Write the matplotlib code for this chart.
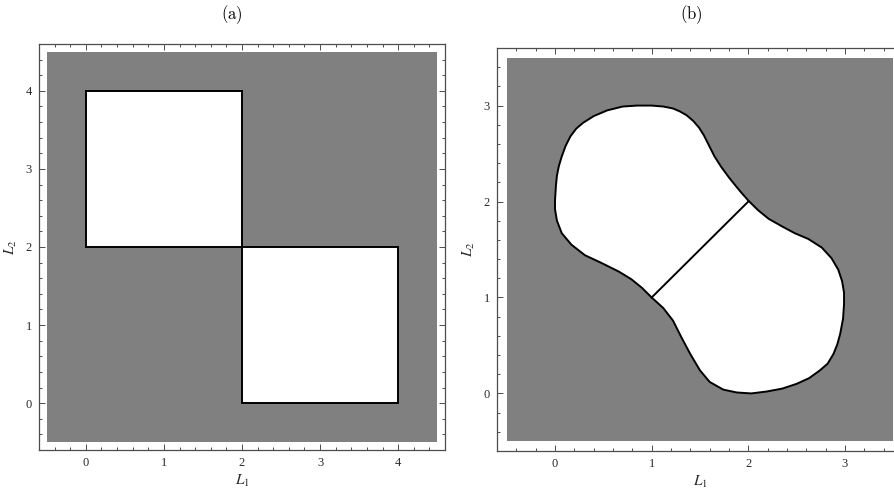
import matplotlib
matplotlib.use("Agg")
import matplotlib.pyplot as plt
from matplotlib.patches import Rectangle, Polygon
from matplotlib.ticker import MultipleLocator

gray = "#808080"
frame_color = "#4d4d4d"

# panel (a): shaded region and the two white squares
a_region = [-0.5, 4.5]
a_square_x = [0, 2]
a_square_y = [2, 0]
a_square_side = 2
a_ticks = [0, 1, 2, 3, 4]

# panel (b): shaded region, outline of the two lobes and the cut between them
b_region = [-0.5, 3.5]
b_ticks = [0, 1, 2, 3]
b_upper_x = [1.00, 0.90, 0.79, 0.66, 0.48, 0.31, 0.17, 0.07, 0.02, 0.0, 0.0, 0.01,
             0.02, 0.04, 0.07, 0.11, 0.16, 0.22, 0.29, 0.40, 0.54, 0.70, 0.85, 1.00,
             1.12, 1.22, 1.29, 1.36, 1.43, 1.49, 1.54, 1.59, 1.65, 1.72, 1.80, 1.88,
             1.93, 2.00]
b_upper_y = [1.00, 1.10, 1.19, 1.27, 1.36, 1.44, 1.55, 1.67, 1.80, 1.92, 2.01, 2.17,
             2.27, 2.37, 2.47, 2.58, 2.68, 2.76, 2.82, 2.89, 2.95, 2.99, 3.00, 3.00,
             2.99, 2.97, 2.94, 2.90, 2.84, 2.77, 2.69, 2.59, 2.47, 2.36, 2.25, 2.15,
             2.09, 2.01]
b_lower_x = [2.00, 2.10, 2.21, 2.35, 2.48, 2.62, 2.76, 2.86, 2.93, 2.97, 2.99, 2.99,
             2.98, 2.95, 2.92, 2.88, 2.82, 2.74, 2.63, 2.50, 2.35, 2.19, 2.03, 1.88,
             1.74, 1.60, 1.50, 1.40, 1.31, 1.22, 1.12, 1.00]
b_lower_y = [2.01, 1.91, 1.82, 1.74, 1.67, 1.61, 1.52, 1.41, 1.29, 1.17, 1.05, 0.93,
             0.78, 0.62, 0.51, 0.41, 0.31, 0.24, 0.16, 0.10, 0.05, 0.02, 0.00, 0.01,
             0.04, 0.12, 0.24, 0.41, 0.58, 0.76, 0.89, 1.00]
b_cut_x = [1, 2]
b_cut_y = [1, 2]


def style_axes(ax, region, ticks):
    pad = 0.1
    ax.set_xlim(region[0] - pad, region[1] + pad)
    ax.set_ylim(region[0] - pad, region[1] + pad)
    ax.add_patch(Rectangle((region[0], region[0]), region[1] - region[0], region[1] - region[0],
                           facecolor=gray, edgecolor="none", zorder=0))
    ax.set_xticks(ticks)
    ax.set_yticks(ticks)
    ax.xaxis.set_minor_locator(MultipleLocator(0.2))
    ax.yaxis.set_minor_locator(MultipleLocator(0.2))
    ax.tick_params(which="both", direction="in", top=True, right=True, color=frame_color, width=0.7)
    ax.tick_params(which="major", length=4, labelsize=9, pad=5, labelcolor="#2b2b2b")
    ax.tick_params(which="minor", length=2.2)
    for lab in ax.get_xticklabels() + ax.get_yticklabels():
        lab.set_family("Liberation Serif")
    for sp in ax.spines.values():
        sp.set_color(frame_color)
        sp.set_linewidth(0.9)
    ax.set_xlabel(r"$L_1$", fontsize=11, math_fontfamily="stix", labelpad=3, color="#2b2b2b")
    ax.set_ylabel(r"$L_2$", fontsize=11, math_fontfamily="stix", labelpad=5, color="#2b2b2b")


fig = plt.figure(figsize=(8.94, 4.97), dpi=100)
ax_a = fig.add_axes([39 / 894, 47 / 497, 406 / 894, 406 / 497])
ax_b = fig.add_axes([497 / 894, 46 / 497, 406 / 894, 403 / 497])

style_axes(ax_a, a_region, a_ticks)
for x0, y0 in zip(a_square_x, a_square_y):
    ax_a.add_patch(Rectangle((x0, y0), a_square_side, a_square_side, facecolor="white",
                             edgecolor="black", linewidth=1.4, zorder=2))

style_axes(ax_b, b_region, b_ticks)
outline = list(zip(b_upper_x, b_upper_y)) + list(zip(b_lower_x[1:], b_lower_y[1:]))
ax_b.add_patch(Polygon(outline, closed=True, facecolor="white", edgecolor="black",
                       linewidth=1.4, joinstyle="round", zorder=2))
ax_b.plot(b_cut_x, b_cut_y, color="black", linewidth=1.4, zorder=3)

fig.text(232 / 894, 1 - 15 / 497, r"$\mathrm{(a)}$", fontsize=12, math_fontfamily="cm",
         ha="center", va="center")
fig.text(691 / 894, 1 - 15 / 497, r"$\mathrm{(b)}$", fontsize=12, math_fontfamily="cm",
         ha="center", va="center")

fig.savefig("out.png", dpi=100)
